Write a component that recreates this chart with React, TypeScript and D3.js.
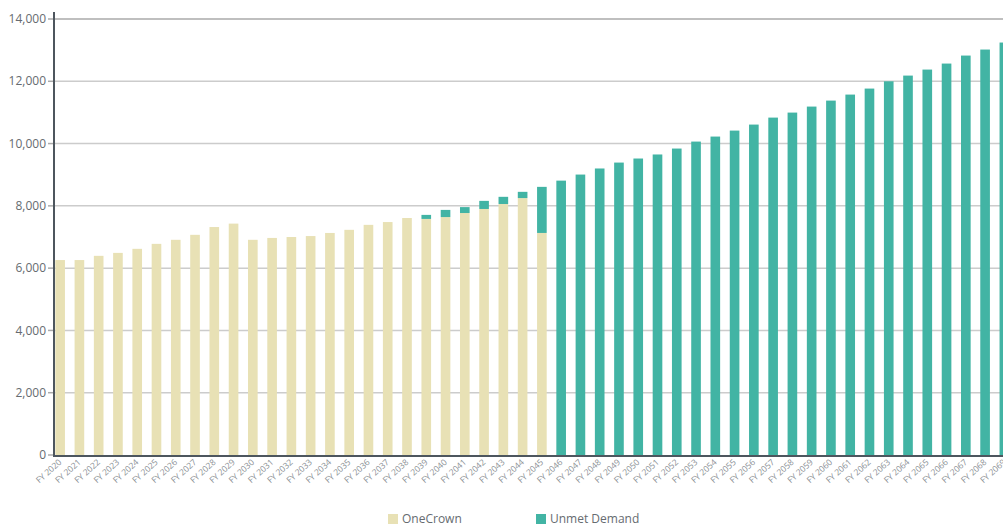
import React from "react";
import * as d3 from "d3";

const years: string[] = d3.range(2020, 2070).map((y) => `FY ${y}`);

const oneCrown: number[] = [
  6260, 6260, 6395, 6490, 6620, 6780, 6910, 7070, 7320, 7430,
  6910, 6970, 7000, 7030, 7130, 7230, 7390, 7480, 7610, 7580,
  7640, 7770, 7900, 8060, 8250, 7130, 0, 0, 0, 0,
  0, 0, 0, 0, 0, 0, 0, 0, 0, 0,
  0, 0, 0, 0, 0, 0, 0, 0, 0, 0,
];

const unmetDemand: number[] = [
  0, 0, 0, 0, 0, 0, 0, 0, 0, 0,
  0, 0, 0, 0, 0, 0, 0, 0, 0, 130,
  230, 190, 260, 230, 200, 1480, 8810, 9005, 9200, 9390,
  9520, 9650, 9840, 10064, 10225, 10417, 10610, 10834, 10995, 11188,
  11380, 11573, 11766, 12000, 12183, 12376, 12569, 12826, 13019, 13244,
];

const yTicks: number[] = [0, 2000, 4000, 6000, 8000, 10000, 12000, 14000];

const seriesNames = ["OneCrown", "Unmet Demand"];
const colors = ["#E8E1B5", "#42B4A4"];

export default function App() {
  const W = 1003;
  const H = 526;
  const x = d3
    .scaleBand<string>()
    .domain(years)
    .range([50.5, 1014])
    .paddingInner(0.5)
    .paddingOuter(0.25);
  const y = d3.scaleLinear().domain([0, 14000]).range([455, 19]);

  const rows = years.map((yr, i) => ({ yr, a: oneCrown[i], b: unmetDemand[i] }));
  const stack = d3.stack<any>().keys(["a", "b"])(rows);
  const fmt = d3.format(",");
  const font = "'Open Sans', sans-serif";

  return (
    <svg
      width={W}
      height={H}
      style={{ position: "absolute", left: 0, top: 0, overflow: "hidden", background: "#fff" }}
      fontFamily={font}
    >
      <g>
        {yTicks.map((t) => (
          <g key={t}>
            {t > 0 && (
              <line
                x1={54}
                x2={W}
                y1={y(t)}
                y2={y(t)}
                stroke={t === 14000 ? "#aaaaaa" : "#cccccc"}
                strokeWidth={1.5}
              />
            )}
            <line x1={48} x2={54} y1={y(t)} y2={y(t)} stroke="#aaaaaa" strokeWidth={1.5} />
            <text
              x={46}
              y={y(t)}
              dy="0.35em"
              textAnchor="end"
              fontSize={12}
              fill="#666b70"
            >
              {fmt(t)}
            </text>
          </g>
        ))}
      </g>
      <g>
        {stack.map((s, si) =>
          s.map((d, i) =>
            d[1] - d[0] > 0 ? (
              <rect
                key={`${si}-${i}`}
                x={x(years[i])}
                y={y(d[1])}
                width={x.bandwidth()}
                height={y(d[0]) - y(d[1])}
                fill={colors[si]}
              />
            ) : null
          )
        )}
      </g>
      <line x1={54} x2={54} y1={12} y2={456} stroke="#4d565e" strokeWidth={2} />
      <line x1={53} x2={W} y1={456} y2={456} stroke="#4d565e" strokeWidth={2} />
      <g>
        {years.map((yr) => (
          <text
            key={yr}
            transform={`translate(${(x(yr) as number) + x.bandwidth() / 2 + 2},${463}) rotate(-42)`}
            textAnchor="end"
            fontSize={8.5}
            fill="#8a8f94"
          >
            {yr}
          </text>
        ))}
      </g>
      <g fontSize={12} fill="#666b70">
        {seriesNames.map((n, i) => (
          <g key={n} transform={`translate(${i === 0 ? 388 : 536},514)`}>
            <rect x={0} y={0} width={10} height={10} fill={colors[i]} />
            <text x={14} y={9} fill="#666b70">
              {n}
            </text>
          </g>
        ))}
      </g>
    </svg>
  );
}
